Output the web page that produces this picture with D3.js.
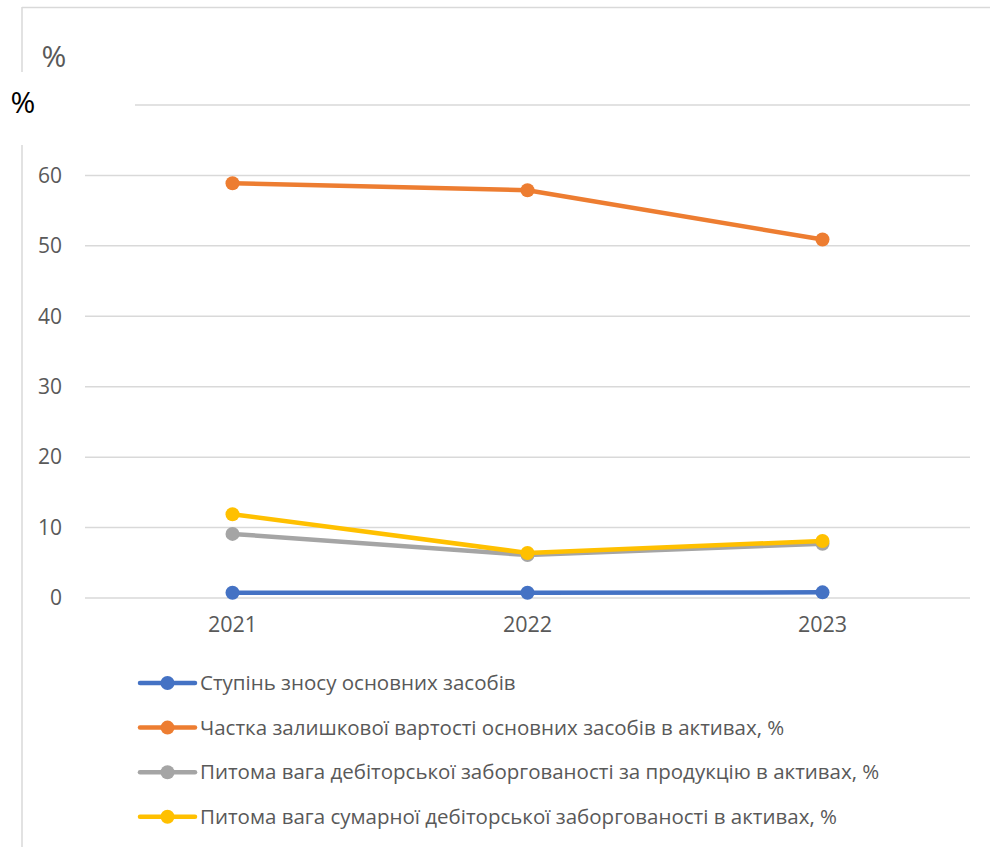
<!DOCTYPE html>
<html>
<head>
<meta charset="utf-8">
<script src="https://cdn.jsdelivr.net/npm/d3@7"></script>
<style>
  body { margin: 0; background: #fff; }
  text { font-family: "Open Sans", "Noto Sans", sans-serif; }
</style>
</head>
<body>
<div id="chart"></div>
<script>
// Дані графіка
const years = ["2021", "2022", "2023"];
const seriesNames = [
    "Ступінь зносу основних засобів",
    "Частка залишкової вартості основних засобів в активах, %",
    "Питома вага дебіторської заборгованості за продукцію в активах, %",
    "Питома вага сумарної дебіторської заборгованості в активах, %"
];
const wearValues = [0.75, 0.75, 0.8];
const residualValues = [58.9, 57.9, 50.9];
const receivableProductValues = [9.1, 6.1, 7.7];
const receivableTotalValues = [11.9, 6.4, 8.1];
const yTicks = [0, 10, 20, 30, 40, 50, 60];
const seriesColors = ["#4472C4", "#ED7D31", "#A5A5A5", "#FFC000"];

const seriesValues = [wearValues, residualValues, receivableProductValues, receivableTotalValues];

const W = 990, H = 847;
const margin = { top: 105, right: 20, bottom: 249, left: 85 };
const width = W - margin.left - margin.right;
const height = H - margin.top - margin.bottom;

const svg = d3.select("#chart").append("svg")
    .attr("width", W)
    .attr("height", H);

// Ramka obszaru wykresu (górna i lewa krawędź)
svg.append("line").attr("x1", 22).attr("x2", W).attr("y1", 7.5).attr("y2", 7.5)
    .attr("stroke", "#d9d9d9").attr("stroke-width", 1.5);
svg.append("line").attr("x1", 22).attr("x2", 22).attr("y1", 7).attr("y2", 72)
    .attr("stroke", "#d9d9d9").attr("stroke-width", 1.5);
svg.append("line").attr("x1", 22).attr("x2", 22).attr("y1", 145).attr("y2", H)
    .attr("stroke", "#d9d9d9").attr("stroke-width", 1.5);

const g = svg.append("g").attr("transform", `translate(${margin.left},${margin.top})`);

const x = d3.scaleBand().domain(years).range([0, width]);
const y = d3.scaleLinear().domain([0, 70]).range([height, 0]);

// Linie siatki
g.append("g")
    .selectAll("line")
    .data(yTicks)
    .join("line")
    .attr("x1", 0).attr("x2", width)
    .attr("y1", d => y(d)).attr("y2", d => y(d))
    .attr("stroke", "#d9d9d9").attr("stroke-width", 1.5);

// Górna linia (70) – zaczyna się dalej, obok etykiety "%"
g.append("line")
    .attr("x1", 50).attr("x2", width)
    .attr("y1", y(70)).attr("y2", y(70))
    .attr("stroke", "#d9d9d9").attr("stroke-width", 1.5);

// Oś Y
const yAxis = g.append("g")
    .call(d3.axisLeft(y).tickValues(yTicks).tickSize(0).tickPadding(23));
yAxis.select(".domain").remove();
yAxis.selectAll("text")
    .attr("fill", "#595959")
    .style("font-size", "21px");

// Oś X
const xAxis = g.append("g")
    .attr("transform", `translate(0,${height})`)
    .call(d3.axisBottom(x).tickSize(0).tickPadding(19));
xAxis.select(".domain").remove();
xAxis.selectAll("text")
    .attr("fill", "#595959")
    .style("font-size", "21.5px");

// Etykiety "%"
svg.append("text")
    .attr("x", 54).attr("y", 67)
    .attr("text-anchor", "middle")
    .attr("fill", "#595959")
    .style("font-size", "30px")
    .text("%");
svg.append("text")
    .attr("x", 23).attr("y", 113)
    .attr("text-anchor", "middle")
    .attr("fill", "#000")
    .style("font-size", "30px")
    .text("%");

// Linie serii
const line = d3.line()
    .x((d, i) => x(years[i]) + x.bandwidth() / 2)
    .y(d => y(d));

seriesValues.forEach((vals, index) => {
    g.append("path")
        .datum(vals)
        .attr("d", line)
        .attr("fill", "none")
        .attr("stroke", seriesColors[index])
        .attr("stroke-width", 4.5)
        .attr("stroke-linejoin", "round")
        .attr("stroke-linecap", "round");

    g.append("g")
        .selectAll("circle")
        .data(vals)
        .join("circle")
        .attr("cx", (d, i) => x(years[i]) + x.bandwidth() / 2)
        .attr("cy", d => y(d))
        .attr("r", 7)
        .attr("fill", seriesColors[index]);
});

// Legenda
const legend = svg.append("g").attr("transform", "translate(140, 683)");
seriesNames.forEach((name, index) => {
    const row = legend.append("g").attr("transform", `translate(0, ${index * 44.6})`);
    row.append("line")
        .attr("x1", 0).attr("x2", 55)
        .attr("y1", 0).attr("y2", 0)
        .attr("stroke", seriesColors[index])
        .attr("stroke-width", 4.5)
        .attr("stroke-linecap", "round");
    row.append("circle")
        .attr("cx", 27.5).attr("cy", 0).attr("r", 7)
        .attr("fill", seriesColors[index]);
    row.append("text")
        .attr("x", 60).attr("y", 0)
        .attr("dy", "0.35em")
        .attr("fill", "#595959")
        .style("font-size", "20.5px")
        .text(name);
});
</script>
</body>
</html>
